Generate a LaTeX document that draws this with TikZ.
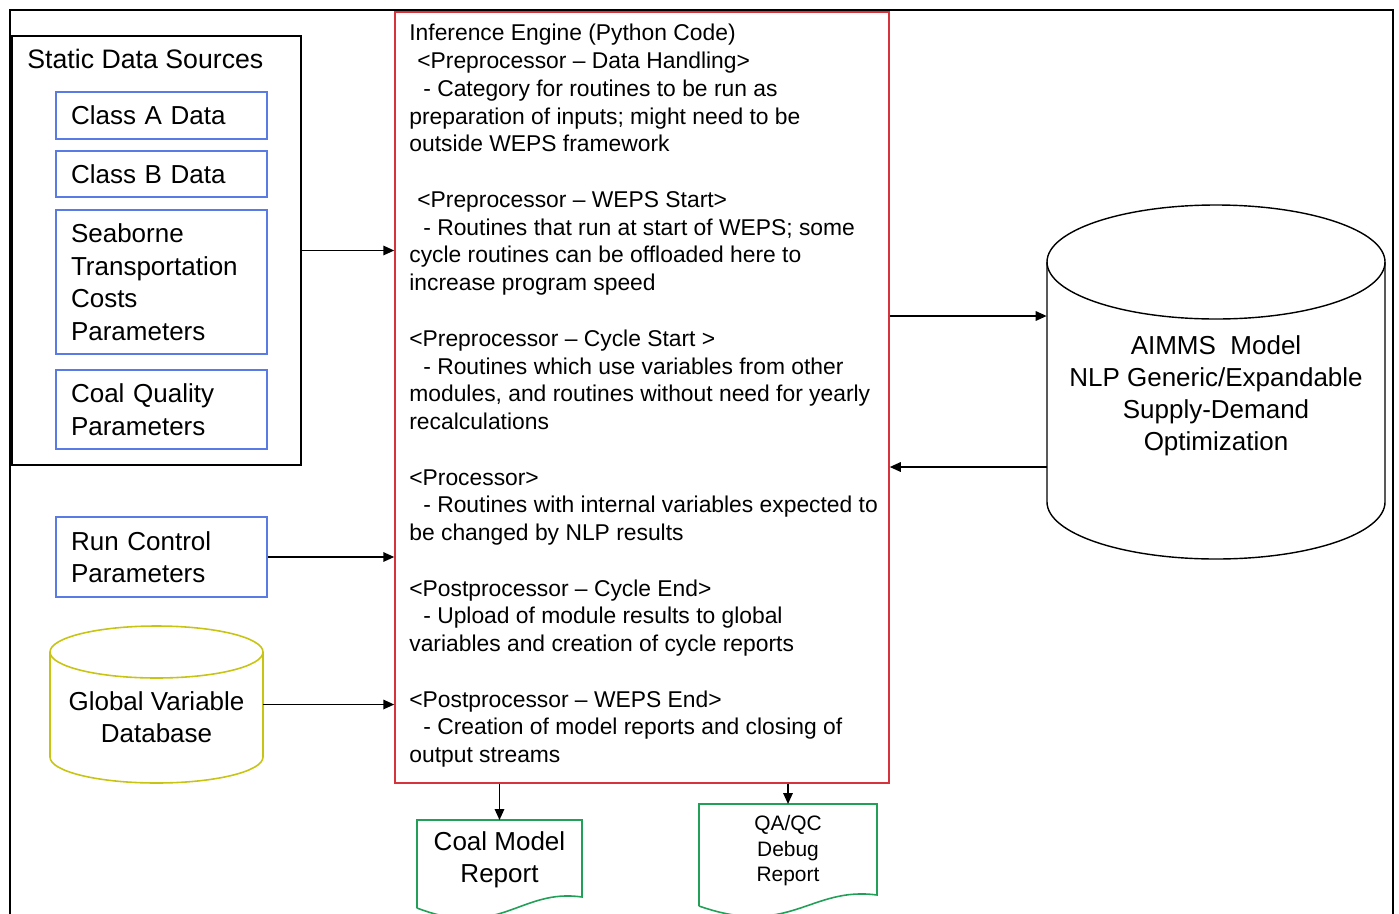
\documentclass[tikz,border=0pt]{standalone}
\usepackage{fontspec}
\setmainfont{Liberation Sans}
\usetikzlibrary{arrows.meta}
\definecolor{boxblue}{RGB}{90,122,228}
\definecolor{enginered}{RGB}{214,52,60}
\definecolor{dbyellow}{RGB}{200,196,20}
\definecolor{repgreen}{RGB}{34,160,88}
\begin{document}
\begin{tikzpicture}[x=0.02cm,y=-0.02cm,
  srcbox/.style={draw=boxblue,line width=0.9pt,minimum width=4.22cm,text width=3.62cm,
    inner xsep=0.3cm,align=left,font=\fontsize{14.8}{18.5}\selectfont},
  bigtext/.style={align=center,font=\fontsize{14.8}{18.4}\selectfont},
  arr/.style={-{Triangle[length=0.22cm,width=0.19cm]},line width=0.95pt}]
\useasboundingbox (0,0) rectangle (1399,913);
% outer frame
\draw[line width=1.2pt] (10,930) -- (10,10) -- (1393,10) -- (1393,930);
% static data sources
\node[draw,line width=0.8pt,minimum width=5.78cm,minimum height=8.58cm] (sds) at (156.5,250.5) {};
\node[anchor=west,font=\fontsize{15.2}{18.5}\selectfont,inner sep=0] (sdstitle) at (27,59) {Static Data Sources};
\node[srcbox,minimum height=0.94cm] (cad) at (161.5,115.5) {Class A Data};
\node[srcbox,minimum height=0.92cm] (cbd) at (161.5,174) {Class B Data};
\node[srcbox,minimum height=2.88cm] (stc) at (161.5,282) {Seaborne\\Transportation\\Costs\\Parameters};
\node[srcbox,minimum height=1.58cm] (cqp) at (161.5,409.5) {Coal Quality\\Parameters};
\node[srcbox,minimum height=1.6cm] (rcp) at (161.5,557) {Run Control\\Parameters};
% global variable database
\node[minimum width=4.26cm,minimum height=3.14cm,inner sep=0] (gvdb) at (156.5,704.5) {};
\draw[dbyellow,line width=0.9pt] (50,652) -- (50,757) arc[start angle=180,end angle=0,x radius=106.5,y radius=26] -- (263,652);
\draw[dbyellow,line width=0.9pt] (156.5,652) ellipse[x radius=106.5,y radius=26];
\node[bigtext] (gvdbtext) at (156.5,717.5) {Global Variable\\Database};
% inference engine
\node[draw=enginered,line width=0.9pt,minimum width=9.88cm,minimum height=15.42cm,inner sep=0] (ie) at (642,397.5) {};
\node[anchor=north west,inner sep=0,align=left,font=\fontsize{13}{15.8}\selectfont] (ietext) at (409,24) {%
Inference Engine (Python Code)\\
\hspace*{0.16cm}<Preprocessor – Data Handling>\\
\hspace*{0.28cm}- Category for routines to be run as\\
preparation of inputs; might need to be\\
outside WEPS framework\\[15.8pt]
\hspace*{0.16cm}<Preprocessor – WEPS Start>\\
\hspace*{0.28cm}- Routines that run at start of WEPS; some\\
cycle routines can be offloaded here to\\
increase program speed\\[15.8pt]
<Preprocessor – Cycle Start >\\
\hspace*{0.28cm}- Routines which use variables from other\\
modules, and routines without need for yearly\\
recalculations\\[15.8pt]
<Processor>\\
\hspace*{0.28cm}- Routines with internal variables expected to\\
be changed by NLP results\\[15.8pt]
<Postprocessor – Cycle End>\\
\hspace*{0.28cm}- Upload of module results to global\\
variables and creation of cycle reports\\[15.8pt]
<Postprocessor – WEPS End>\\
\hspace*{0.28cm}- Creation of model reports and closing of\\
output streams};
% AIMMS model
\node[minimum width=6.76cm,minimum height=7.06cm,inner sep=0] (aimms) at (1216,381.5) {};
\draw[line width=0.8pt] (1047,262) -- (1047,502) arc[start angle=180,end angle=0,x radius=169,y radius=57] -- (1385,262);
\draw[line width=0.8pt] (1216,262) ellipse[x radius=169,y radius=57];
\node[bigtext,font=\fontsize{14.8}{18.3}\selectfont] (aimmstext) at (1216,395.5) {AIMMS\ \ Model\\NLP Generic/Expandable\\Supply-Demand\\Optimization};
% reports
\node[anchor=north,minimum width=3.3cm,minimum height=1.56cm,inner sep=0,bigtext,font=\fontsize{14.8}{18.2}\selectfont] (cmr) at (499.5,820) {Coal Model\\Report};
\draw[repgreen,line width=0.9pt] (417,908) -- (417,820) -- (582,820) -- (582,897) .. controls (520,888) and (500,940) .. (417,908);
\node[anchor=north,minimum width=3.56cm,minimum height=1.86cm,inner sep=0,align=center,font=\fontsize{11.9}{14.5}\selectfont] (qcr) at (788,804) {QA/QC\\Debug\\Report};
\draw[repgreen,line width=0.9pt] (699,906) -- (699,804) -- (877,804) -- (877,895) .. controls (810,886) and (790,938) .. (699,906);
% connectors
\coordinate (h1) at (0,316);
\coordinate (h2) at (0,467);
\draw[arr] (sds.east) -- (sds.east -| ie.west);
\draw[arr] (rcp.east) -- (rcp.east -| ie.west);
\draw[arr] (gvdb.east) -- (gvdb.east -| ie.west);
\draw[arr] (ie.east |- h1) -- (aimms.west |- h1);
\draw[arr] (aimms.west |- h2) -- (ie.east |- h2);
\draw[arr] (ie.south -| cmr.north) -- (cmr.north);
\draw[arr] (ie.south -| qcr.north) -- (qcr.north);
\end{tikzpicture}
\end{document}
